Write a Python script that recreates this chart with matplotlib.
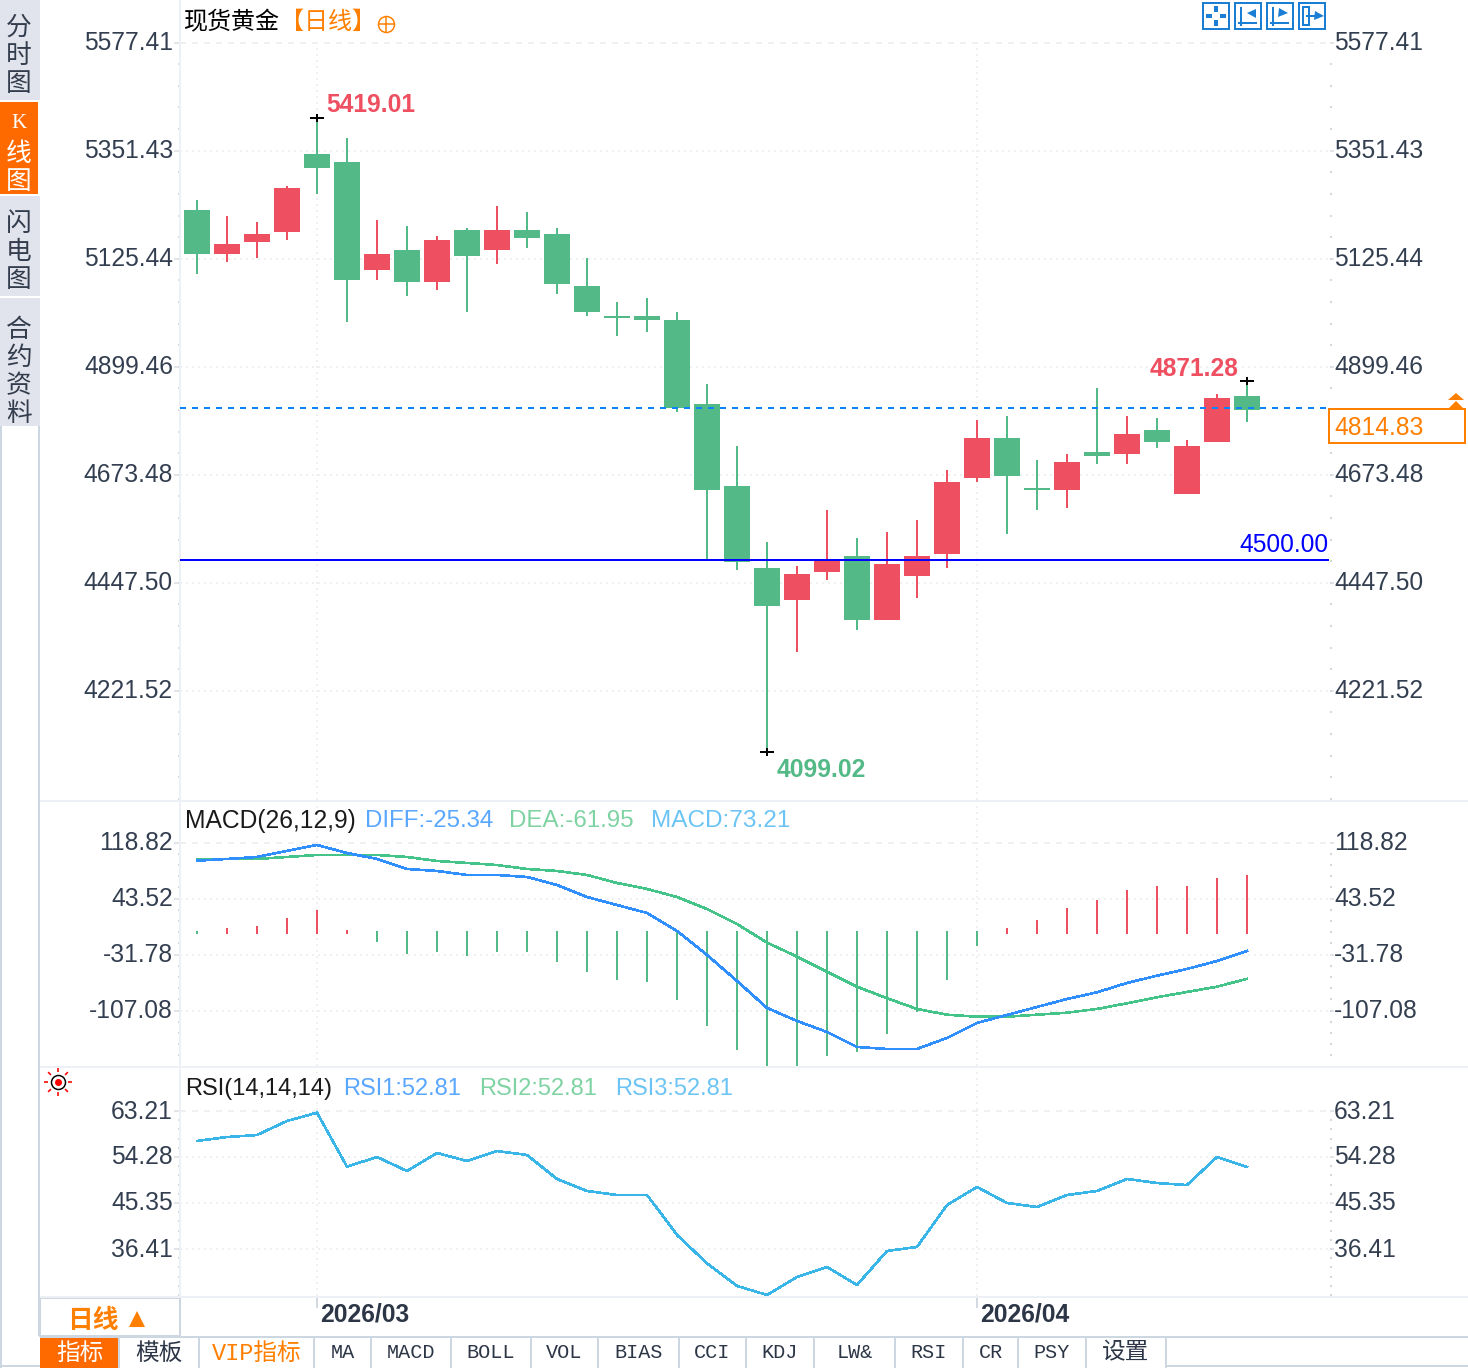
import matplotlib
matplotlib.use("Agg")
import matplotlib.pyplot as plt
from matplotlib.patches import Rectangle
from matplotlib.transforms import ScaledTranslation
import numpy as np

# daily candles
open_ = [5228.3, 5136.7, 5161.7, 5182.5, 5345.0, 5328.4, 5103.3, 5145.0, 5078.3, 5186.7, 5145.0, 5186.7,
         5178.3, 5070.0, 5007.5, 5007.5, 4999.1, 4824.1, 4653.2, 4482.3, 4415.7, 4474.0, 4507.4, 4374.0,
         4465.7, 4511.5, 4669.9, 4753.2, 4649.0, 4644.9, 4724.1, 4719.9, 4769.9, 4636.5, 4744.9, 4840.8]
close = [5136.7, 5157.5, 5178.3, 5274.2, 5315.9, 5082.5, 5136.7, 5078.3, 5165.8, 5132.5, 5186.7, 5170.0,
         5074.1, 5015.8, 5003.3, 4999.1, 4815.8, 4644.9, 4494.8, 4403.2, 4469.8, 4501.0, 4374.0, 4490.7,
         4507.4, 4661.6, 4753.2, 4674.1, 4644.9, 4703.2, 4715.7, 4761.6, 4744.9, 4736.6, 4836.6, 4811.6]
high = [5249.2, 5215.8, 5203.3, 5278.4, 5419.01, 5378.4, 5207.5, 5195.0, 5174.2, 5190.8, 5236.7, 5224.2,
        5190.8, 5128.3, 5036.6, 5045.0, 5015.8, 4865.8, 4736.6, 4536.5, 4486.5, 4603.2, 4544.9, 4557.4,
        4582.4, 4686.6, 4790.7, 4799.1, 4707.4, 4719.9, 4857.4, 4799.1, 4794.9, 4749.1, 4844.9, 4871.28]
low = [5095.0, 5120.0, 5128.3, 5165.8, 5261.7, 4995.0, 5082.5, 5049.1, 5061.6, 5015.8, 5115.8, 5149.2,
       5053.3, 5007.5, 4965.8, 4974.1, 4807.4, 4501.1, 4478.2, 4099.02, 4307.3, 4457.3, 4353.2, 4374.0,
       4419.8, 4482.3, 4661.6, 4553.2, 4603.2, 4607.4, 4699.1, 4699.1, 4732.4, 4636.5, 4744.9, 4786.6]

diff = [92.6, 94.8, 97.4, 105.3, 113.1, 102.6, 94.8, 81.7, 79.1, 73.9, 73.9, 71.3, 60.8, 45.1, 34.6, 24.2, 0.7, -30.7,
        -64.7, -100.0, -117.0, -131.4, -151.0, -153.6, -153.6, -139.2, -119.6, -109.2, -98.7, -88.3, -79.5, -67.3,
        -57.8, -49.0, -38.6, -25.34]
dea = [94.8, 94.8, 94.8, 97.4, 100.0, 100.0, 100.0, 97.4, 92.2, 89.6, 86.9, 81.7, 79.1, 73.9, 63.4, 55.6, 45.1, 29.4,
       9.8, -14.6, -32.9, -52.6, -72.2, -87.3, -101.3, -108.8, -111.4, -111.4, -108.8, -106.2, -101.3, -93.9,
       -86.0, -79.1, -72.2, -61.95]
macd = [-3.3, 4.6, 7.2, 17.7, 28.1, 2.0, -13.7, -29.4, -26.8, -32.0, -26.8, -26.8, -39.9, -53.0, -63.4, -66.0, -89.6,
        -123.6, -154.9, -178.0, -178.0, -162.8, -157.6, -134.0, -105.3, -63.4, -19.0, 4.6, 15.0, 30.7, 41.2, 54.3,
        59.5, 59.5, 70.0, 73.21]
rsi = [57.39, 58.16, 58.55, 61.27, 62.88, 52.40, 54.28, 51.56, 55.06, 53.50, 55.44, 54.67, 50.01, 47.68, 46.90, 46.90,
       39.14, 33.64, 29.24, 27.49, 30.98, 32.92, 29.43, 36.03, 36.81, 44.96, 48.46, 45.35, 44.57, 46.90, 47.68, 50.01,
       49.23, 48.84, 54.28, 52.34]

price_labels = ["5577.41", "5351.43", "5125.44", "4899.46", "4673.48", "4447.50", "4221.52"]
price_ticks = [5577.0, 5351.9, 5126.9, 4901.8, 4676.8, 4451.7, 4226.7]
macd_labels = ["118.82", "43.52", "-31.78", "-107.08"]
macd_ticks = [116.1, 42.9, -30.3, -103.6]
rsi_labels = ["63.21", "54.28", "45.35", "36.41"]
rsi_ticks = [63.21, 54.28, 45.35, 36.41]
month_labels = ["2026/03", "2026/04"]
month_index = [4, 26]
last_price = 4814.83
support = 4500.00

side_tabs = ["分时图", "K线图", "闪电图", "合约资料"]
bottom_tabs = ["指标", "模板", "VIP指标", "MA", "MACD", "BOLL", "VOL", "BIAS", "CCI", "KDJ", "LW&", "RSI", "CR", "PSY", "设置"]
bottom_edges = [40, 119, 199, 314, 371, 451, 531, 598, 679, 746, 814, 895, 963, 1018, 1086, 1166]

W, H = 1468, 1368
PX = 0.72  # one pixel in points at dpi 100
RED = "#ee4f61"
GREEN = "#53b987"
ORANGE = "#ff7f00"
TAB_ORANGE = "#ff6a00"
TICK_TEXT = "#333f50"
LINE = "#cdd7e1"
PALE = "#edf1f5"
GRID = "#eef0f2"
LATIN = ["Liberation Sans", "Noto Sans CJK SC"]
CJK = ["Noto Sans CJK SC", "DejaVu Sans"]
MONO = ["Liberation Mono", "Noto Sans CJK SC"]
FS = 17.7

fig = plt.figure(figsize=(W / 100, H / 100), dpi=100, facecolor="white")


def panel(y0, y1):
    ax = fig.add_axes([180 / W, 1 - y1 / H, 1150 / W, (y1 - y0) / H], facecolor="none")
    ax.set_xlim(-17 / 30, 1133 / 30)
    return ax


def style_panel(ax, ticks, labels, vgrid_top=1.0):
    ylo = ax.get_ylim()[0]
    step = (ticks[0] - ticks[1]) / 5
    minor = ticks[0] - step * np.arange(1, 60)
    minor = minor[minor > ylo]
    up = ScaledTranslation(0, 2 / 100, fig.dpi_scale_trans)
    for side in ["top", "right", "bottom"]:
        ax.spines[side].set_visible(False)
    ax.spines["left"].set_color(PALE)
    ax.spines["left"].set_linewidth(2 * PX)
    ax.set_xticks(month_index, [])
    ax.tick_params(axis="x", length=0)

    ax.set_yticks(ticks, labels, family=LATIN, fontsize=FS, color=TICK_TEXT)
    ax.set_yticks(minor, minor=True)
    ax.tick_params(axis="y", which="major", length=6 * PX, width=2 * PX, color="#e2e6eb", pad=1 * PX)
    ax.tick_params(axis="y", which="minor", length=2 * PX, width=2 * PX, color="#d3d9e0")
    ax.grid(True, axis="y", which="major", color=GRID, lw=2 * PX, ls=(0, (1, 2)))
    ax.get_ygridlines()[0].set_linestyle((0, (3, 3)))
    ax.set_axisbelow(True)
    for i in month_index:
        ax.axvline(i, ymax=vgrid_top, color=GRID, lw=2 * PX, ls=(0, (1, 2)), zorder=0)

    right = ax.secondary_yaxis("right")
    right.spines["right"].set_visible(False)
    right.set_yticks(ticks, labels, family=LATIN, fontsize=FS, color=TICK_TEXT)
    right.set_yticks(minor, minor=True)
    right.tick_params(axis="y", which="major", length=4 * PX, width=2 * PX, color="#e2e6eb", pad=0)
    right.tick_params(axis="y", which="minor", length=2 * PX, width=2 * PX, color="#d3d9e0")
    for lab in list(ax.get_yticklabels()) + list(right.get_yticklabels()):
        lab.set_transform(lab.get_transform() + up)


x = np.arange(len(open_))

# main candles
ax_main = panel(0, 800)
ax_main.set_ylim(3998.9, 5665.94)
style_panel(ax_main, price_ticks, price_labels, vgrid_top=0.94)
colors = [RED if c >= o else GREEN for o, c in zip(open_, close)]
ax_main.vlines(x, low, high, colors=colors, lw=2 * PX, zorder=2, antialiased=False)
ax_main.bar(x, np.abs(np.array(close) - np.array(open_)), bottom=np.minimum(open_, close), width=26 / 30,
            color=colors, lw=0, zorder=3, antialiased=False)
ax_main.axhline(support, xmax=1148 / 1150, color="#0000ff", lw=2 * PX, zorder=5)
ax_main.axhline(last_price, color="#0a84ff", lw=2 * PX, ls=(0, (3, 3)), zorder=5)

i_hi = int(np.argmax(high))
i_lo = int(np.argmin(low))
i_last = len(high) - 1
for i, y_val in [(i_hi, high[i_hi]), (i_lo, low[i_lo]), (i_last, high[i_last])]:
    ax_main.plot([i], [y_val], marker="_", ms=14 * PX, mew=2 * PX, color="black", zorder=6)
    ax_main.plot([i], [y_val], marker="|", ms=8 * PX, mew=2 * PX, color="black", zorder=6)
ax_main.annotate(f"{high[i_hi]:.2f}", (i_hi, high[i_hi]), xytext=(9, 13), textcoords="offset pixels",
                 color=RED, family=LATIN, fontsize=FS, fontweight="bold", va="center")
ax_main.annotate(f"{low[i_lo]:.2f}", (i_lo, low[i_lo]), xytext=(10, -18), textcoords="offset pixels",
                 color=GREEN, family=LATIN, fontsize=FS, fontweight="bold", va="center")
ax_main.annotate(f"{high[i_last]:.2f}", (i_last, high[i_last]), xytext=(-9, 12), textcoords="offset pixels",
                 color=RED, family=LATIN, fontsize=FS, fontweight="bold", va="center", ha="right")
ax_main.annotate(f"{support:.2f}", (1, support), xycoords=ax_main.get_yaxis_transform(), xytext=(-2, 15),
                 textcoords="offset pixels", color="#0000ff", family=LATIN, fontsize=FS, va="center", ha="right")

# MACD
ax_macd = panel(802, 1066)
ax_macd.set_ylim(-175.9, 169.3)
style_panel(ax_macd, macd_ticks, macd_labels)
macd_colors = [RED if m > 0 else GREEN for m in macd]
macd_base = [-3.3 if m > 0 else 0 for m in macd]
ax_macd.vlines(x, macd_base, macd, colors=macd_colors, lw=2 * PX, zorder=2, antialiased=False)
ax_macd.plot(x, dea, color="#45c48a", lw=1.6 * PX, zorder=3, antialiased=False)
ax_macd.plot(x, diff, color="#2f8fff", lw=1.6 * PX, zorder=4, antialiased=False)

# RSI
ax_rsi = panel(1068, 1296)
ax_rsi.set_ylim(27.29, 71.56)
style_panel(ax_rsi, rsi_ticks, rsi_labels)
ax_rsi.plot(x, rsi, color="#3ab5e8", lw=1.6 * PX, zorder=3, antialiased=False)

# month row
ax_time = panel(1298, 1336)
ax_time.set_ylim(0, 1)
for s in ax_time.spines.values():
    s.set_visible(False)
ax_time.set_yticks([])
ax_time.set_xticks(month_index, month_labels, family=LATIN, fontsize=FS, fontweight="bold", color="#2c3646",
                   ha="left", va="center")
ax_time.tick_params(axis="x", top=True, bottom=False, direction="in", length=10 * PX, width=2 * PX,
                    color="#d3d9e0", pad=-21 * PX)
for lab in ax_time.get_xticklabels():
    lab.set_transform(lab.get_transform() + ScaledTranslation(3 / 100, 0, fig.dpi_scale_trans))

# everything around the panels, drawn in pixel space
ui = fig.add_axes([0, 0, 1, 1], facecolor="none", zorder=10)
ui.set_xlim(0, W)
ui.set_ylim(H, 0)
ui.axis("off")


def rule(x0, y0, x1, y1, color=LINE):
    ui.plot([x0, x1], [y0, y1], color=color, lw=2 * PX, solid_capstyle="butt")


def box(x0, y0, x1, y1, **kw):
    ui.add_patch(Rectangle((x0, y0), x1 - x0, y1 - y0, **kw))


# side tabs
tab_spans = [(0, 100), (102, 194), (196, 296), (298, 426)]
tab_starts = [28, 124, 224, 330]
for name, (t0, t1), start in zip(side_tabs, tab_spans, tab_starts):
    active = name.startswith("K")
    box(0, t0, 38 if active else 40, t1, facecolor=TAB_ORANGE if active else "#e1e4ec", lw=0)
    for n, ch in enumerate(name):
        if ch == "K":
            ui.text(19, start, ch, family=["Liberation Serif"], fontsize=15, ha="center", va="center", color="white")
        else:
            ui.text(19, start + n * 28 + (2 if active else 0), ch, family=CJK, fontsize=18.5, ha="center", va="center",
                    color="white" if active else "#333d4d")
rule(1, 426, 1, H)
rule(39, 426, 39, 1336)
rule(40, 801, W, 801, PALE)
rule(40, 1067, W, 1067, PALE)
rule(40, 1297, W, 1297, PALE)

# title rows
ui.text(184, 22, "现货黄金", family=CJK, fontsize=17.3, color="black", va="center")
ui.text(280, 22, "【日线】", family=CJK, fontsize=17.3, color=ORANGE, va="center")
ui.plot([386], [24], marker="o", ms=16 * PX, mfc="none", mec=ORANGE, mew=1.5 * PX)
ui.plot([386], [24], marker="+", ms=16 * PX, mec=ORANGE, mew=1.5 * PX)


def legend_row(y, items):
    for lx, text, color, size in items:
        ui.text(lx, y, text, family=LATIN, fontsize=size, color=color, va="center")


legend_row(821, [(185, "MACD(26,12,9)", "#1a1a1a", FS), (365, f"DIFF:{diff[-1]:.2f}", "#5aa7ff", 17.3),
                 (509, f"DEA:{dea[-1]:.2f}", "#7fd3a3", 17.4), (651, f"MACD:{macd[-1]:.2f}", "#6cc4f5", 17.6)])
legend_row(1089, [(185, "RSI(14,14,14)", "#1a1a1a", 17), (343, "RSI1:52.81", "#5aa7ff", 17),
                  (479, "RSI2:52.81", "#7fd3a3", 17), (615, "RSI3:52.81", "#6cc4f5", 17)])

# last price box and arrows
box(1329, 409, 1465, 443, facecolor="white", edgecolor=ORANGE, lw=2 * PX)
ui.text(1334, 428, f"{last_price:.2f}", family=LATIN, fontsize=FS, color=ORANGE, va="center")
ui.fill([1448, 1456, 1464], [400, 393, 400], color=ORANGE, lw=0)
ui.fill([1448, 1456, 1464], [409, 401, 409], color=ORANGE, lw=0)

# toolbar buttons
BLUE = "#1a7fd4"
for bx in [1203, 1235, 1267, 1299]:
    box(bx, 3, bx + 26, 29, facecolor="white", edgecolor=BLUE, lw=2 * PX)
for rx, ry, rw, rh in [(1214, 6, 4, 6), (1214, 20, 4, 6), (1206, 14, 6, 4), (1220, 14, 6, 4)]:
    box(rx, ry, rx + rw, ry + rh, facecolor=BLUE, lw=0)
for bx, mark in [(1235, "<"), (1267, ">")]:
    rule(bx + 6, 7, bx + 6, 26, BLUE)
    rule(bx + 3, 23, bx + 22, 23, BLUE)
    ui.plot([bx + 16], [13], marker=mark, ms=9 * PX, color=BLUE, mew=0)
box(1303, 7, 1309, 25, facecolor="none", edgecolor=BLUE, lw=2 * PX)
rule(1306, 16, 1318, 16, BLUE)
ui.plot([1319], [16], marker=">", ms=9 * PX, color=BLUE, mew=0)

# sun icon beside the RSI legend
ang = np.deg2rad(np.arange(0, 360, 45))
for a in ang:
    ui.plot([58 + 10 * np.cos(a), 58 + 14 * np.cos(a)], [1082 + 10 * np.sin(a), 1082 + 14 * np.sin(a)],
            color="#ff0000", lw=1.6 * PX, solid_capstyle="butt")
ui.plot([58], [1082], marker="o", ms=14 * PX, mfc="none", mec="black", mew=1.5 * PX)
ui.plot([58], [1082], marker="o", ms=7 * PX, color="#ff0000", mew=0)

# period selector
box(40, 1298, 180, 1336, facecolor="white", edgecolor=LINE, lw=2 * PX)
ui.text(93, 1320, "日线", family=CJK, fontsize=18.5, fontweight="bold", color=ORANGE, ha="center", va="center")
ui.plot([137], [1319], marker="^", ms=16 * PX, color=ORANGE, mew=0)

# bottom tabs
rule(40, 1337, W, 1337)
rule(1166, 1366, W, 1366)
rule(0, 1366, 40, 1366)
for name, e0, e1 in zip(bottom_tabs, bottom_edges[:-1], bottom_edges[1:]):
    first = e0 == bottom_edges[0]
    if first:
        box(e0, 1338, e1 - 1, H, facecolor=TAB_ORANGE, lw=0)
    rule(e1, 1338, e1, H)
    color = "white" if first else (ORANGE if name.startswith("VIP") else "#2c3646")
    ui.text((e0 + e1) / 2, 1353, name, family=MONO, fontsize=14.5 if name.isascii() else 17, color=color,
            ha="center", va="center")

fig.savefig("out.png", dpi=100)
